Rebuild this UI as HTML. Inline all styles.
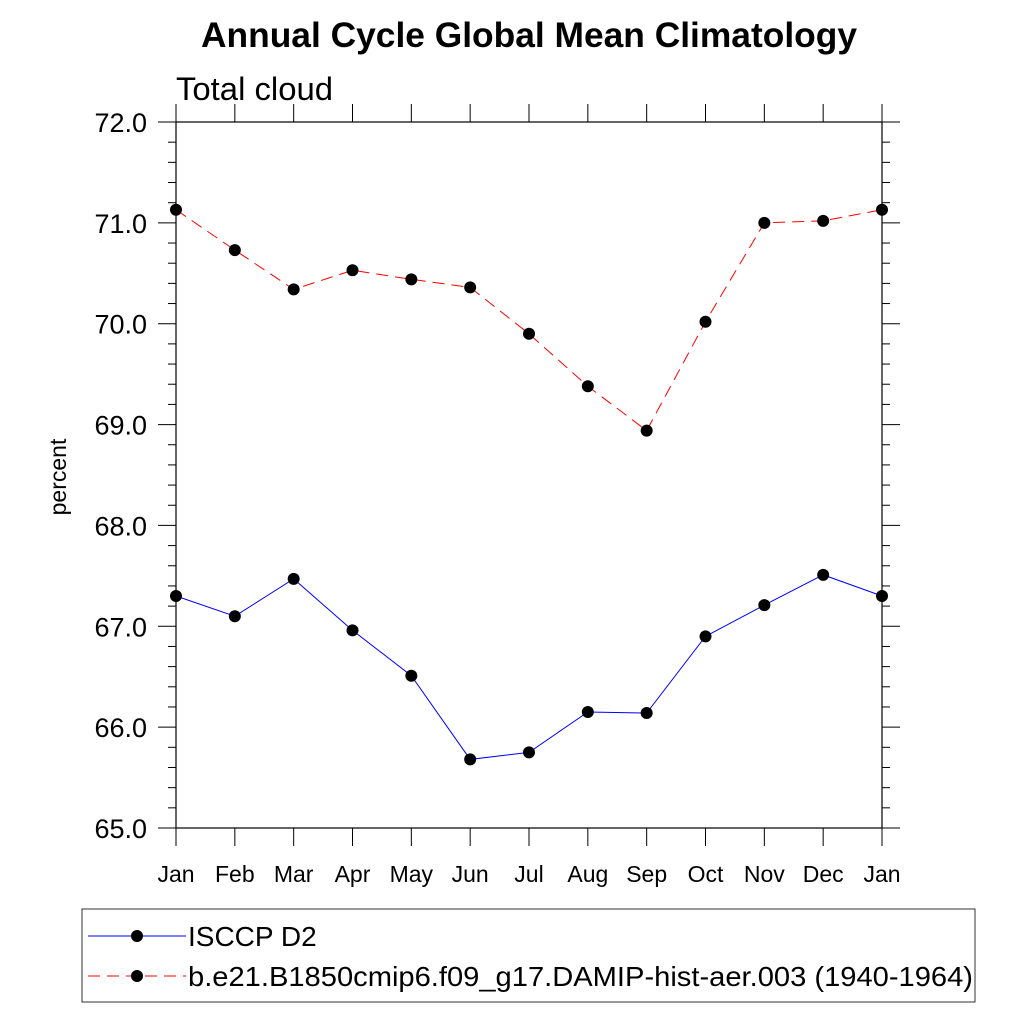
<!DOCTYPE html>
<html><head><meta charset="utf-8"><style>body{margin:0;background:#fff}svg{display:block}text{font-family:"Liberation Sans",sans-serif}</style></head>
<body>
<svg width="1024" height="1024">
<text x="201" y="47" font-size="35" font-weight="bold" textLength="656" lengthAdjust="spacingAndGlyphs">Annual Cycle Global Mean Climatology</text>
<text x="176" y="100" font-size="32" textLength="157" lengthAdjust="spacingAndGlyphs">Total cloud</text>
<text transform="translate(66,477) rotate(-90)" text-anchor="middle" font-size="23">percent</text>
<g id="axes"></g>
<g id="series"></g>
<rect x="82" y="909" width="893" height="93" fill="none" stroke="#000" stroke-width="0.8"/>
<g>
<line x1="88" y1="936" x2="186" y2="936" stroke="#0000ff" stroke-width="1"/>
<circle cx="137" cy="936" r="6" fill="#000"/>
<text x="188" y="946" font-size="28">ISCCP D2</text></g>
<g>
<line x1="88" y1="976" x2="186" y2="976" stroke="#ff0000" stroke-width="1" stroke-dasharray="12,7"/>
<circle cx="137" cy="976" r="6" fill="#000"/>
<text x="188" y="986" font-size="28" textLength="785" lengthAdjust="spacingAndGlyphs">b.e21.B1850cmip6.f09_g17.DAMIP-hist-aer.003 (1940-1964)</text></g>
</svg>
<script>
const months=["Jan","Feb","Mar","Apr","May","Jun","Jul","Aug","Sep","Oct","Nov","Dec","Jan"];
const isccp=[67.30,67.10,67.47,66.96,66.51,65.68,65.75,66.15,66.14,66.90,67.21,67.51,67.30];
const model=[71.13,70.73,70.34,70.53,70.44,70.36,69.90,69.38,68.94,70.02,71.00,71.02,71.13];
const yTicks=[65,66,67,68,69,70,71,72];
const X0=176,X1=882,Y0=828,Y1=122,ymin=65,ymax=72;
const xs=i=>X0+(X1-X0)*i/12, ys=v=>Y0-(v-ymin)/(ymax-ymin)*(Y0-Y1);
const NS="http://www.w3.org/2000/svg";
function mk(p,t,a){const e=document.createElementNS(NS,t);for(const k in a)e.setAttribute(k,a[k]);p.appendChild(e);return e;}
const ax=document.getElementById('axes');
const frame=mk(ax,'rect',{x:X0,y:Y1,width:X1-X0,height:Y0-Y1,fill:'none',stroke:'#000','stroke-width':1.2});


for(let v=65;v<=72.001;v+=0.2){const y=ys(v);const maj=Math.abs(v-Math.round(v))<0.01;const L=maj?18:8;
mk(ax,'line',{x1:X0-L,y1:y,x2:X0,y2:y,stroke:'#000'});mk(ax,'line',{x1:X1,y1:y,x2:X1+L,y2:y,stroke:'#000'});}
yTicks.forEach(v=>{const t=mk(ax,'text',{x:X0-29,y:ys(v)+10,'text-anchor':'end','font-size':27});t.textContent=v.toFixed(1);

});
months.forEach((m,i)=>{const x=xs(i);mk(ax,'line',{x1:x,y1:Y0,x2:x,y2:Y0+18,stroke:'#000'});mk(ax,'line',{x1:x,y1:Y1-18,x2:x,y2:Y1,stroke:'#000'});
const t=mk(ax,'text',{x:x,y:882,'text-anchor':'middle','font-size':23});t.textContent=m;

});
const sg=document.getElementById('series');
function draw(d,col,dash,name){const pl=mk(sg,'polyline',{points:d.map((v,i)=>xs(i)+','+ys(v)).join(' '),fill:'none',stroke:col,'stroke-width':1,'stroke-dasharray':dash});


d.forEach((v,i)=>{const c=mk(sg,'circle',{cx:xs(i),cy:ys(v),r:6,fill:'#000'});

});}
draw(model,'#ff0000','12,7','model');
draw(isccp,'#0000ff','none','isccp');
</script>
</body></html>
